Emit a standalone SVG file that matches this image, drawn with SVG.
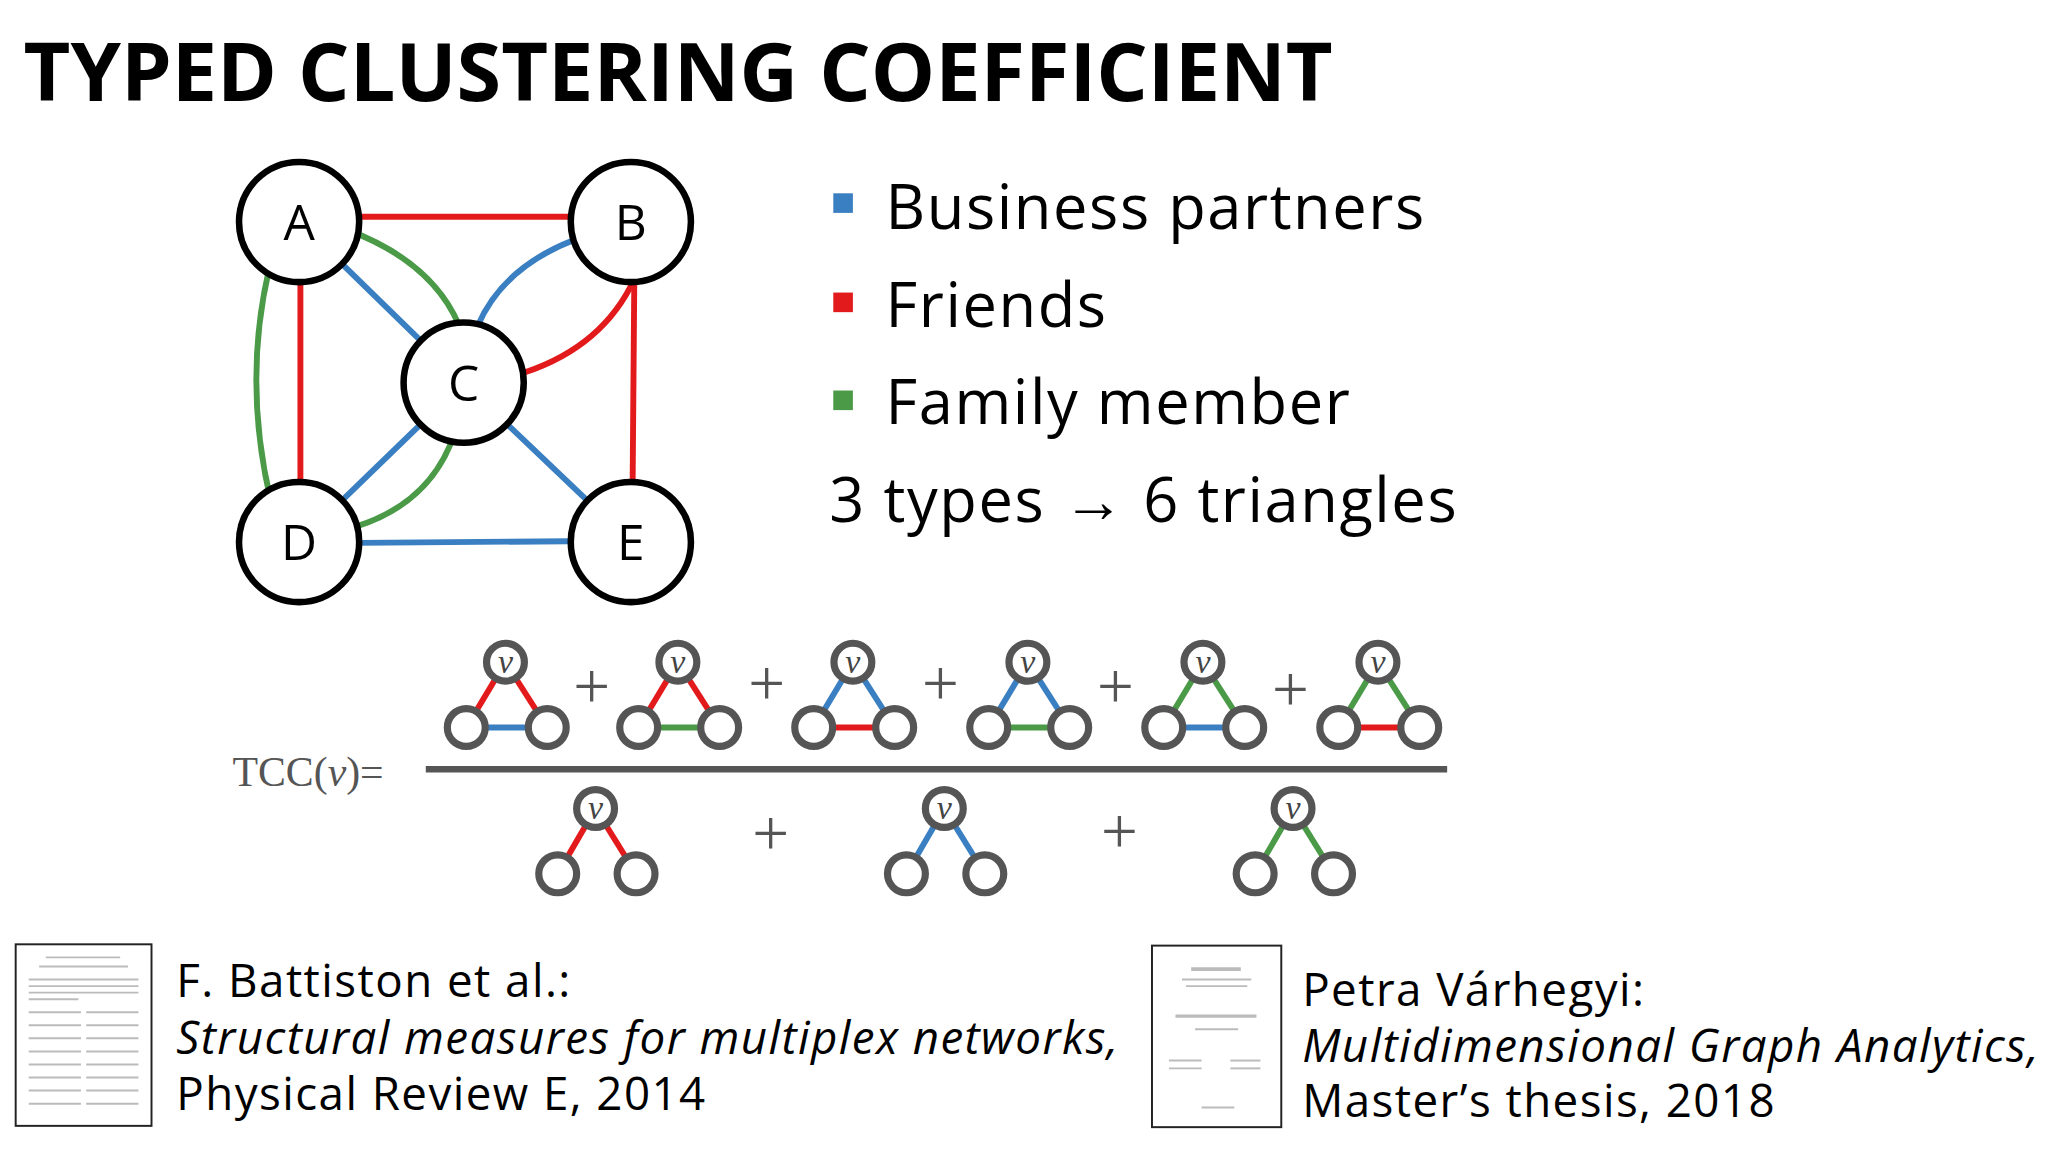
<svg xmlns="http://www.w3.org/2000/svg" width="2048" height="1152" viewBox="0 0 2048 1152">
<style>
.n{fill:#fff;stroke:#000;stroke-width:5}
.lbl{font-family:"Open Sans","Noto Sans",sans-serif;font-size:38px;text-anchor:middle;fill:#000}
.b{stroke:#3a7fc1;stroke-width:4.5;fill:none}
.r{stroke:#e31a1c;stroke-width:4.5;fill:none}
.g{stroke:#4a9a48;stroke-width:4.5;fill:none}
.leg{font-family:"Open Sans","Noto Sans",sans-serif;font-size:47px;letter-spacing:1.2px;fill:#000}
.ref{font-family:"Open Sans","Noto Sans",sans-serif;font-size:35px;letter-spacing:1.1px;fill:#000}
.sc{fill:#fff;stroke:#555;stroke-width:5.5}
.v{font-family:"Liberation Serif",serif;font-style:italic;font-size:26px;fill:#444;text-anchor:middle}
.pl{font-family:"Liberation Serif",serif;font-size:50px;fill:#555;text-anchor:middle}
.th{stroke:#bbb;stroke-width:1.5}
</style>
<defs>
<g id="vn"><circle class="sc" cx="0" cy="0" r="14.5"/><text class="v" x="0" y="8">v</text></g>
<circle id="bn" class="sc" cx="0" cy="0" r="14.5"/>
</defs>
<rect width="2048" height="1152" fill="#fff"/>
<g transform="scale(1.3061)">
<text x="18" y="77" font-family="Open Sans,Noto Sans,sans-serif" font-weight="bold" font-size="62" fill="#000">TYPED CLUSTERING COEFFICIENT</text>
<g id="connectors">
<line class="r" x1="229" y1="166" x2="483" y2="166"/>
<line class="r" x1="230" y1="170" x2="230" y2="415"/>
<path class="g" d="M206,206 Q186,292 207,382"/>
<line class="b" x1="229" y1="170" x2="355" y2="293"/>
<path class="g" d="M266,176 Q330,200 351,248"/>
<path class="b" d="M439,184 Q385,205 366,249"/>
<path class="r" d="M486,213 Q462,265 402,285"/>
<line class="r" x1="486" y1="170" x2="484" y2="415"/>
<line class="b" x1="355" y1="293" x2="229" y2="415"/>
<path class="g" d="M348,332 Q330,385 273,403"/>
<line class="b" x1="355" y1="293" x2="483" y2="415"/>
<line class="b" x1="229" y1="416" x2="483" y2="414"/>
</g>
<g id="A"><circle class="n" cx="229" cy="170" r="46"/><text class="lbl" x="229" y="184">A</text></g>
<g id="B"><circle class="n" cx="483" cy="170" r="46"/><text class="lbl" x="483" y="184">B</text></g>
<g id="C"><circle class="n" cx="355" cy="293" r="46"/><text class="lbl" x="355" y="307">C</text></g>
<g id="D"><circle class="n" cx="229" cy="415" r="46"/><text class="lbl" x="229" y="429">D</text></g>
<g id="E"><circle class="n" cx="483" cy="415" r="46"/><text class="lbl" x="483" y="429">E</text></g>
<g id="legend">
<rect x="638" y="148" width="15" height="15" fill="#3a7fc1"/>
<rect x="638" y="224" width="15" height="15" fill="#e31a1c"/>
<rect x="638" y="299" width="15" height="15" fill="#4a9a48"/>
<text class="leg" x="678" y="175">Business partners</text>
<text class="leg" x="678" y="250">Friends</text>
<text class="leg" x="678" y="325">Family member</text>
<text class="leg" x="635" y="400">3 types → 6 triangles</text>
</g>
<g id="formula">
<text x="178" y="602" font-family="Liberation Serif,serif" font-size="32" fill="#555">TCC(<tspan font-style="italic">v</tspan>)=</text>
<line x1="326" y1="589" x2="1108" y2="589" stroke="#555" stroke-width="5"/>
<g transform="translate(387,0)"><line class="r" x1="0" y1="507" x2="-30" y2="557"/><line class="r" x1="0" y1="507" x2="32" y2="557"/><line class="b" x1="-30" y1="557" x2="32" y2="557"/><use href="#vn" x="0" y="507"/><use href="#bn" x="-30" y="557"/><use href="#bn" x="32" y="557"/></g>
<g transform="translate(519,0)"><line class="r" x1="0" y1="507" x2="-30" y2="557"/><line class="r" x1="0" y1="507" x2="32" y2="557"/><line class="g" x1="-30" y1="557" x2="32" y2="557"/><use href="#vn" x="0" y="507"/><use href="#bn" x="-30" y="557"/><use href="#bn" x="32" y="557"/></g>
<g transform="translate(653,0)"><line class="b" x1="0" y1="507" x2="-30" y2="557"/><line class="b" x1="0" y1="507" x2="32" y2="557"/><line class="r" x1="-30" y1="557" x2="32" y2="557"/><use href="#vn" x="0" y="507"/><use href="#bn" x="-30" y="557"/><use href="#bn" x="32" y="557"/></g>
<g transform="translate(787,0)"><line class="b" x1="0" y1="507" x2="-30" y2="557"/><line class="b" x1="0" y1="507" x2="32" y2="557"/><line class="g" x1="-30" y1="557" x2="32" y2="557"/><use href="#vn" x="0" y="507"/><use href="#bn" x="-30" y="557"/><use href="#bn" x="32" y="557"/></g>
<g transform="translate(921,0)"><line class="g" x1="0" y1="507" x2="-30" y2="557"/><line class="g" x1="0" y1="507" x2="32" y2="557"/><line class="b" x1="-30" y1="557" x2="32" y2="557"/><use href="#vn" x="0" y="507"/><use href="#bn" x="-30" y="557"/><use href="#bn" x="32" y="557"/></g>
<g transform="translate(1055,0)"><line class="g" x1="0" y1="507" x2="-30" y2="557"/><line class="g" x1="0" y1="507" x2="32" y2="557"/><line class="r" x1="-30" y1="557" x2="32" y2="557"/><use href="#vn" x="0" y="507"/><use href="#bn" x="-30" y="557"/><use href="#bn" x="32" y="557"/></g>
<text class="pl" x="453" y="542">+</text><text class="pl" x="587" y="540">+</text><text class="pl" x="720" y="540">+</text><text class="pl" x="854" y="542">+</text><text class="pl" x="988" y="544">+</text>
<g transform="translate(456,0)"><line class="r" x1="0" y1="619" x2="-29" y2="669"/><line class="r" x1="0" y1="619" x2="31" y2="669"/><use href="#vn" x="0" y="619"/><use href="#bn" x="-29" y="669"/><use href="#bn" x="31" y="669"/></g>
<g transform="translate(723,0)"><line class="b" x1="0" y1="619" x2="-29" y2="669"/><line class="b" x1="0" y1="619" x2="31" y2="669"/><use href="#vn" x="0" y="619"/><use href="#bn" x="-29" y="669"/><use href="#bn" x="31" y="669"/></g>
<g transform="translate(990,0)"><line class="g" x1="0" y1="619" x2="-29" y2="669"/><line class="g" x1="0" y1="619" x2="31" y2="669"/><use href="#vn" x="0" y="619"/><use href="#bn" x="-29" y="669"/><use href="#bn" x="31" y="669"/></g>
<text class="pl" x="590" y="655">+</text><text class="pl" x="857" y="653">+</text>
</g>
<g id="ref1">
<rect x="12" y="723" width="104" height="139" fill="#fff" stroke="#222" stroke-width="1.5"/>
<g class="th"><line x1="35" y1="733" x2="92" y2="733"/><line x1="30" y1="740" x2="98" y2="740"/><line x1="22" y1="750" x2="106" y2="750"/><line x1="22" y1="755" x2="106" y2="755"/><line x1="22" y1="760" x2="106" y2="760"/><line x1="22" y1="765" x2="60" y2="765"/>
<line x1="22" y1="775" x2="62" y2="775"/><line x1="66" y1="775" x2="106" y2="775"/><line x1="22" y1="785" x2="62" y2="785"/><line x1="66" y1="785" x2="106" y2="785"/><line x1="22" y1="795" x2="62" y2="795"/><line x1="66" y1="795" x2="106" y2="795"/><line x1="22" y1="805" x2="62" y2="805"/><line x1="66" y1="805" x2="106" y2="805"/><line x1="22" y1="815" x2="62" y2="815"/><line x1="66" y1="815" x2="106" y2="815"/><line x1="22" y1="825" x2="62" y2="825"/><line x1="66" y1="825" x2="106" y2="825"/><line x1="22" y1="835" x2="62" y2="835"/><line x1="66" y1="835" x2="106" y2="835"/><line x1="22" y1="845" x2="62" y2="845"/><line x1="66" y1="845" x2="106" y2="845"/></g>
<text class="ref" x="135" y="763">F. Battiston et al.:</text>
<text class="ref" x="135" y="807" font-style="italic">Structural measures for multiplex networks,</text>
<text class="ref" x="135" y="850">Physical Review E, 2014</text>
</g>
<g id="ref2">
<rect x="882" y="724" width="99" height="139" fill="#fff" stroke="#222" stroke-width="1.5"/>
<g class="th"><line x1="912" y1="742" x2="950" y2="742" stroke-width="3"/><line x1="905" y1="750" x2="958" y2="750"/><line x1="908" y1="755" x2="955" y2="755"/><line x1="900" y1="778" x2="962" y2="778" stroke-width="2.5"/><line x1="915" y1="788" x2="948" y2="788"/><line x1="895" y1="812" x2="920" y2="812"/><line x1="942" y1="812" x2="965" y2="812"/><line x1="895" y1="818" x2="920" y2="818"/><line x1="942" y1="818" x2="965" y2="818"/><line x1="920" y1="848" x2="945" y2="848"/></g>
<text class="ref" x="997" y="770" letter-spacing="0.7">Petra Várhegyi:</text>
<text class="ref" x="997" y="813" font-style="italic" letter-spacing="0.7">Multidimensional Graph Analytics,</text>
<text class="ref" x="997" y="855" letter-spacing="0.7">Master’s thesis, 2018</text>
</g>
</g>
</svg>
